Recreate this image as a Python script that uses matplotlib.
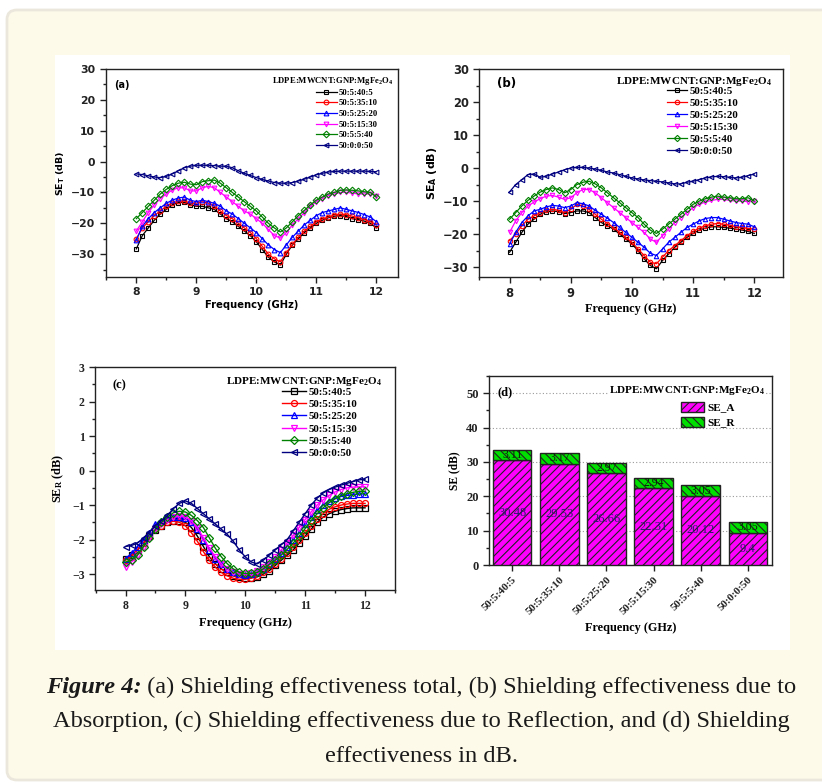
import numpy as np
import matplotlib
matplotlib.use('Agg')
import matplotlib.pyplot as plt
from matplotlib.patches import FancyBboxPatch, Rectangle
from matplotlib.ticker import MultipleLocator

plt.rcParams['mathtext.default'] = 'regular'
plt.rcParams['hatch.linewidth'] = 0.8

SANS = 'DejaVu Sans'
SERIF = 'Liberation Serif'

# ---------------- data ----------------
freq = np.round(np.arange(8.0, 12.0001, 0.1), 2)
series_labels = ['50:5:40:5', '50:5:35:10', '50:5:25:20', '50:5:15:30', '50:5:5:40', '50:0:0:50']
colors = ['#000000', '#ff0000', '#0000ff', '#ff00ff', '#008000', '#000080']
markers = ['s', 'o', '^', 'v', 'D', '<']

# (a) total shielding effectiveness SE_T (dB)
set_405 = [-28.3, -24, -21.5, -19, -17, -15.5, -14, -13.3, -13.2, -14, -14.5, -14.5, -15, -15.5, -17, -18.5,
           -19.5, -21, -22.5, -24, -26, -28.5, -31, -32.5, -33.5, -30, -27, -25, -23, -21.5, -20, -19, -18.2,
           -17.7, -17.5, -17.8, -18.5, -18.8, -19.3, -20, -21.5]
set_3510 = [-25, -21.5, -19.5, -17.5, -16, -14.5, -13.5, -12.8, -12.8, -13.5, -13.5, -13, -13.5, -14.5, -16,
            -17.5, -18.5, -20, -21.5, -23, -25, -27.5, -30, -31.5, -32.5, -29.5, -26.8, -24.5, -22.5, -21,
            -19.5, -18.6, -18, -17.3, -17, -17.2, -17.7, -18.2, -18.8, -19.5, -20.5]
set_2520 = [-25.5, -21, -18.5, -16.5, -15, -13.5, -12.5, -11.8, -11.5, -12.5, -13, -12.5, -13, -13.5, -14.5,
            -16, -17, -18.5, -20, -21.5, -23, -25, -27, -28.5, -29.5, -27, -24.5, -22.5, -20.5, -19, -17.5,
            -16.5, -16, -15.5, -15, -15.5, -16, -16.5, -17.2, -18, -19.5]
set_1530 = [-22.5, -19.5, -16.5, -14, -12, -10.5, -9.2, -8.5, -8.5, -9.5, -9.5, -8.5, -8, -8.5, -10, -11.5,
            -13, -14.5, -16, -17, -18.5, -20, -22, -24, -24.8, -23, -20.5, -18.5, -16.5, -14.5, -13, -12, -11,
            -10.5, -10, -10, -10.2, -10.5, -10.5, -10.5, -11]
set_540 = [-18.5, -16.5, -14.5, -12.5, -10.5, -9, -7.8, -7, -6.7, -7.3, -7.5, -6.5, -6.2, -6, -7, -8.5, -10,
           -11.5, -13, -14.5, -16, -18, -20, -21.5, -22.8, -21.5, -19.5, -17.5, -15.8, -14, -12.5, -11.5, -10.5,
           -10, -9.3, -9.2, -9.3, -9.5, -9.8, -10, -11.5]
set_0050 = [-4, -4.2, -4.6, -5, -5.2, -4.8, -4, -3, -2, -1.5, -1.2, -1.2, -1.2, -1.3, -1.5, -1.5, -2, -3, -3.8,
            -4.5, -5.2, -5.8, -6.3, -6.8, -7, -7, -6.8, -6.3, -5.7, -5, -4.3, -3.8, -3.4, -3.2, -3.1, -3.1, -3.1,
            -3.1, -3.1, -3.2, -3.3]

# (b) absorption SE_A (dB)
sea_405 = [-25.5, -22.5, -19.5, -17, -15.5, -14, -13.3, -13, -13.2, -13.8, -13.5, -13, -13, -13.5, -15, -16.5,
           -17.5, -18.5, -20, -21.5, -23, -25, -27.5, -29.5, -30.5, -28, -26, -24, -22.5, -21, -19.8, -18.8,
           -18.2, -17.8, -17.8, -18, -18.2, -18.5, -18.8, -19.2, -19.8]
sea_3510 = [-22, -20, -17.5, -15.5, -14.5, -13.5, -12.8, -12.5, -12.8, -13.5, -12.5, -11, -11.5, -12.5, -14,
            -15.5, -16.8, -18, -19.5, -21, -22.5, -24.5, -26.5, -28.5, -29, -27, -25, -23.5, -22, -20.5, -19.2,
            -18.2, -17.5, -17, -16.8, -17, -17.3, -17.8, -18, -18.3, -18.5]
sea_2520 = [-23, -19.5, -16.5, -14.5, -13, -12.5, -11.8, -11.3, -11.5, -12, -11.5, -10.5, -10.8, -11.5, -12.8,
            -14, -15.2, -16.5, -18, -19.5, -21, -22.5, -24, -25.8, -26.5, -24.5, -22.5, -21, -19.5, -18, -17,
            -16, -15.3, -15, -15, -15.5, -16, -16.5, -16.8, -17, -17.8]
sea_1530 = [-19.5, -16, -13.5, -11.5, -10.3, -9.3, -8.5, -8.3, -8.8, -9.5, -9, -7.5, -6.5, -6.5, -7.5, -9,
            -10.5, -12, -13.5, -15, -16.5, -18, -19.5, -21.5, -22.5, -20.5, -18.5, -16.5, -15, -13.5, -12, -11,
            -10.3, -9.8, -9.5, -9.5, -9.8, -10, -10, -10.2, -10]
sea_540 = [-15.5, -13.5, -11.5, -9.8, -8.5, -7.3, -6.5, -6, -6.5, -7.5, -6.5, -5, -4.3, -4, -4.8, -6, -7.5, -9,
           -10.5, -12, -13.5, -15, -17, -18.8, -19.8, -18.5, -17, -15.5, -14, -12.5, -11, -10, -9.3, -8.8, -8.5,
           -8.8, -9, -9.3, -9.3, -9, -10]
sea_0050 = [-7.2, -5, -3.5, -2, -1.8, -2.8, -2.5, -1.8, -1.2, -0.5, 0, 0.2, 0.2, 0, -0.3, -0.7, -1.2, -1.5, -2,
            -2.5, -3, -3.3, -3.6, -3.8, -4, -4.2, -4.5, -4.8, -4.8, -4.3, -4, -3.5, -3, -2.7, -2.5, -2.6, -2.8,
            -3, -2.8, -2.3, -1.8]

# (c) reflection SE_R (dB)
ser_405 = [-2.55, -2.45, -2.3, -2.1, -1.9, -1.72, -1.6, -1.5, -1.45, -1.45, -1.5, -1.65, -1.9, -2.2, -2.5,
           -2.7, -2.85, -2.95, -3.05, -3.08, -3.1, -3.1, -3.08, -3.0, -2.9, -2.75, -2.6, -2.45, -2.3, -2.1,
           -1.9, -1.7, -1.5, -1.35, -1.25, -1.18, -1.13, -1.1, -1.08, -1.08, -1.08]
ser_3510 = [-2.6, -2.5, -2.3, -2.1, -1.9, -1.7, -1.6, -1.5, -1.47, -1.5, -1.6, -1.8, -2.05, -2.35, -2.6, -2.8,
            -2.95, -3.05, -3.12, -3.15, -3.15, -3.12, -3.05, -2.95, -2.85, -2.7, -2.55, -2.4, -2.2, -2.0, -1.8,
            -1.6, -1.4, -1.25, -1.12, -1.05, -1.0, -0.97, -0.95, -0.95, -0.95]
ser_2520 = [-2.55, -2.4, -2.2, -2.0, -1.8, -1.55, -1.45, -1.38, -1.35, -1.35, -1.38, -1.5, -1.7, -2.0, -2.3,
            -2.55, -2.72, -2.85, -2.95, -3.0, -3.02, -3.0, -2.95, -2.85, -2.72, -2.55, -2.4, -2.2, -2.0, -1.8,
            -1.55, -1.35, -1.15, -1.0, -0.88, -0.8, -0.75, -0.72, -0.7, -0.68, -0.68]
ser_1530 = [-2.8, -2.65, -2.45, -2.2, -1.95, -1.7, -1.55, -1.42, -1.35, -1.32, -1.35, -1.45, -1.65, -1.95,
            -2.25, -2.5, -2.7, -2.85, -2.95, -3.0, -3.0, -2.98, -2.92, -2.8, -2.65, -2.5, -2.3, -2.1, -1.88,
            -1.65, -1.42, -1.2, -1.0, -0.85, -0.72, -0.62, -0.55, -0.5, -0.48, -0.47, -0.47]
ser_540 = [-2.65, -2.6, -2.45, -2.2, -1.95, -1.7, -1.5, -1.35, -1.22, -1.18, -1.2, -1.3, -1.45, -1.65, -1.95,
           -2.25, -2.5, -2.7, -2.85, -2.95, -2.98, -2.98, -2.95, -2.85, -2.72, -2.6, -2.45, -2.28, -2.1, -1.9,
           -1.68, -1.45, -1.25, -1.08, -0.93, -0.82, -0.73, -0.67, -0.63, -0.6, -0.6]
ser_0050 = [-2.2, -2.17, -2.1, -1.95, -1.78, -1.6, -1.45, -1.3, -1.1, -0.95, -0.88, -0.95, -1.1, -1.25, -1.4,
            -1.55, -1.7, -1.85, -2.05, -2.3, -2.5, -2.65, -2.7, -2.6, -2.45, -2.3, -2.15, -2.0, -1.75, -1.5,
            -1.25, -1.0, -0.8, -0.65, -0.55, -0.48, -0.42, -0.37, -0.32, -0.27, -0.25]

# (d) bars
bar_labels = ['50:5:40:5', '50:5:35:10', '50:5:25:20', '50:5:15:30', '50:5:5:40', '50:0:0:50']
bar_se_a = [30.48, 29.53, 26.66, 22.31, 20.12, 9.4]
bar_se_r = [3.11, 3.17, 2.97, 2.94, 3.05, 3.05]

panel_a = [set_405, set_3510, set_2520, set_1530, set_540, set_0050]
panel_b = [sea_405, sea_3510, sea_2520, sea_1530, sea_540, sea_0050]
panel_c = [ser_405, ser_3510, ser_2520, ser_1530, ser_540, ser_0050]

TITLE = r'LDPE:MWCNT:GNP:MgFe$_2$O$_4$'

# ---------------- figure ----------------
W, H = 822, 782
fig = plt.figure(figsize=(W / 100, H / 100), dpi=100)
fig.patch.set_facecolor('white')


def fx(x):
    return x / W


def fy(y):
    return 1 - y / H


bg = FancyBboxPatch((fx(7), fy(780)), fx(840) - fx(7), fy(10) - fy(780),
                    boxstyle='round,pad=0,rounding_size=0.012', transform=fig.transFigure,
                    facecolor='#fefae9', edgecolor='#ebe7dd', linewidth=2.0, zorder=-10)
fig.patches.append(bg)
fig.patches.append(Rectangle((fx(55), fy(650)), fx(790) - fx(55), fy(55) - fy(650),
                             transform=fig.transFigure, facecolor='white', edgecolor='none', zorder=-9))


def ax_rect(l, t, r, b):
    return [fx(l), fy(b), fx(r) - fx(l), fy(t) - fy(b)]


def style_axes(ax, tick_font, tick_size):
    for s in ax.spines.values():
        s.set_linewidth(1.0)
        s.set_color('#222222')
    ax.tick_params(which='both', direction='out', top=False, right=False, width=1.0, color='#222222')
    ax.tick_params(which='major', length=4)
    ax.tick_params(which='minor', length=2)
    for lab in ax.get_xticklabels() + ax.get_yticklabels():
        lab.set_fontfamily(tick_font)
        lab.set_fontweight('bold')
        lab.set_fontsize(tick_size)
        lab.set_color('#222222')


def line_panel(ax, data, ms, mew, lw):
    handles = []
    for vals, c, m, lab in zip(data, colors, markers, series_labels):
        h, = ax.plot(freq, vals, color=c, marker=m, markersize=ms, markerfacecolor='none',
                     markeredgewidth=mew, linewidth=lw, label=lab)
        handles.append(h)
    return handles


# ---- (a)
axa = fig.add_axes(ax_rect(105.7, 69, 398, 277))
line_panel(axa, panel_a, 3.4, 0.8, 0.9)
axa.set_xlim(7.49, 12.36)
axa.set_ylim(-37.4, 30)
axa.xaxis.set_major_locator(MultipleLocator(1))
axa.xaxis.set_minor_locator(MultipleLocator(0.5))
axa.yaxis.set_major_locator(MultipleLocator(10))
axa.yaxis.set_minor_locator(MultipleLocator(5))
style_axes(axa, SANS, 7.8)
axa.set_xlabel('Frequency (GHz)', fontfamily=SANS, fontweight='bold', fontsize=7.2, labelpad=2)
axa.set_ylabel('SE$_T$ (dB)', fontfamily=SANS, fontweight='bold', fontsize=6.8, labelpad=3)
axa.text(0.03, 0.925, '(a)', transform=axa.transAxes, fontfamily=SANS, fontweight='bold',
         fontsize=7, va='center', ha='left')
axa.text(0.985, 0.942, TITLE, transform=axa.transAxes, fontfamily=SERIF, fontweight='bold',
         fontsize=6.2, va='center', ha='right')
axa.legend(loc='upper left', bbox_to_anchor=(0.72, 0.905), frameon=False, borderpad=0, borderaxespad=0,
           prop={'family': SERIF, 'weight': 'bold', 'size': 6.2}, handlelength=2.4, handletextpad=0.2,
           labelspacing=0.3)

# ---- (b)
axb = fig.add_axes(ax_rect(479, 69, 783, 277))
line_panel(axb, panel_b, 3.2, 0.8, 0.9)
axb.set_xlim(7.5, 12.47)
axb.set_ylim(-33, 30)
axb.xaxis.set_major_locator(MultipleLocator(1))
axb.xaxis.set_minor_locator(MultipleLocator(0.5))
axb.yaxis.set_major_locator(MultipleLocator(10))
axb.yaxis.set_minor_locator(MultipleLocator(5))
style_axes(axb, SANS, 8.3)
axb.set_xlabel('Frequency (GHz)', fontfamily=SERIF, fontweight='bold', fontsize=8.8, labelpad=2)
axb.set_ylabel('SE$_A$ (dB)', fontfamily=SANS, fontweight='bold', fontsize=8, labelpad=3)
axb.text(0.06, 0.93, '(b)', transform=axb.transAxes, fontfamily=SANS, fontweight='bold',
         fontsize=8.5, va='center', ha='left')
axb.text(0.965, 0.942, TITLE, transform=axb.transAxes, fontfamily=SERIF, fontweight='bold',
         fontsize=8, va='center', ha='right')
axb.legend(loc='upper left', bbox_to_anchor=(0.62, 0.915), frameon=False, borderpad=0, borderaxespad=0,
           prop={'family': SERIF, 'weight': 'bold', 'size': 7.8}, handlelength=1.8, handletextpad=0.2,
           labelspacing=0.22)

# ---- (c)
axc = fig.add_axes(ax_rect(95, 367, 395, 590))
line_panel(axc, panel_c, 4.3, 0.9, 1.0)
axc.set_xlim(7.49, 12.5)
axc.set_ylim(-3.46, 3)
axc.xaxis.set_major_locator(MultipleLocator(1))
axc.xaxis.set_minor_locator(MultipleLocator(0.5))
axc.yaxis.set_major_locator(MultipleLocator(1))
axc.yaxis.set_minor_locator(MultipleLocator(0.5))
style_axes(axc, SERIF, 8.5)
axc.set_xlabel('Frequency (GHz)', fontfamily=SERIF, fontweight='bold', fontsize=9, labelpad=3)
axc.set_ylabel('SE$_R$ (dB)', fontfamily=SERIF, fontweight='bold', fontsize=8.8, labelpad=4)
axc.text(0.057, 0.92, '(c)', transform=axc.transAxes, fontfamily=SERIF, fontweight='bold',
         fontsize=9, va='center', ha='left')
axc.text(0.957, 0.937, TITLE, transform=axc.transAxes, fontfamily=SERIF, fontweight='bold',
         fontsize=8, va='center', ha='right')
axc.legend(loc='upper left', bbox_to_anchor=(0.623, 0.91), frameon=False, borderpad=0, borderaxespad=0,
           prop={'family': SERIF, 'weight': 'bold', 'size': 7.8}, handlelength=2.2, handletextpad=0.25,
           labelspacing=0.25)

# ---- (d)
axd = fig.add_axes(ax_rect(489, 376, 772, 565))
xpos = np.arange(len(bar_labels))
ba = axd.bar(xpos, bar_se_a, width=0.82, color='#ff00ff', edgecolor='#222222', hatch='////',
             linewidth=1.0, label='SE_A', zorder=3)
br = axd.bar(xpos, bar_se_r, bottom=bar_se_a, width=0.82, color='#00e000', edgecolor='#222222',
             hatch='\\\\\\\\', linewidth=1.0, label='SE_R', zorder=3)
for xi, a, r in zip(xpos, bar_se_a, bar_se_r):
    axd.text(xi, a / 2, f'{a:g}', ha='center', va='center', fontfamily=SERIF, fontsize=9,
             color='#2a1a6a', zorder=5)
    axd.text(xi, a + r / 2, f'{r:.2f}', ha='center', va='center', fontfamily=SERIF, fontsize=8.5,
             color='#0a200a', zorder=5)
axd.set_xlim(-0.49, 5.51)
axd.set_ylim(0, 55)
axd.set_xticks(xpos)
axd.set_xticklabels(bar_labels, rotation=45, ha='right', rotation_mode='anchor')
axd.yaxis.set_major_locator(MultipleLocator(10))
axd.yaxis.set_minor_locator(MultipleLocator(5))
axd.set_axisbelow(True)
axd.yaxis.grid(True, which='major', linestyle=(0, (1, 2)), color='#9a9a9a', linewidth=0.8)
style_axes(axd, SERIF, 9)
for lab in axd.get_xticklabels():
    lab.set_fontsize(8)
axd.set_xlabel('Frequency (GHz)', fontfamily=SERIF, fontweight='bold', fontsize=8.8, labelpad=4)
axd.set_ylabel('SE (dB)', fontfamily=SERIF, fontweight='bold', fontsize=8.3, labelpad=4)
axd.text(0.03, 0.915, '(d)', transform=axd.transAxes, fontfamily=SERIF, fontweight='bold',
         fontsize=9, va='center', ha='left', zorder=6)
axd.text(0.975, 0.921, TITLE, transform=axd.transAxes, fontfamily=SERIF, fontweight='bold',
         fontsize=8, va='center', ha='right', zorder=6,
         bbox=dict(facecolor='white', edgecolor='none', pad=0.5))
axd.legend(loc='upper left', bbox_to_anchor=(0.678, 0.865), frameon=True, facecolor='white',
           edgecolor='none', framealpha=1, borderpad=0, borderaxespad=0,
           prop={'family': SERIF, 'weight': 'bold', 'size': 8}, handlelength=2.1, handleheight=1.1,
           handletextpad=0.3, labelspacing=0.35)

# ---- caption
renderer = fig.canvas.get_renderer()
cap_size = 17.6
t1 = fig.text(0, fy(693), 'Figure 4:', fontfamily=SERIF, fontweight='bold', fontstyle='italic',
              fontsize=cap_size, va='baseline', ha='left', color='#1a1a1a')
t2 = fig.text(0, fy(693), ' (a) Shielding effectiveness total, (b) Shielding effectiveness due to',
              fontfamily=SERIF, fontsize=cap_size, va='baseline', ha='left', color='#1a1a1a')
w1 = t1.get_window_extent(renderer).width
w2 = t2.get_window_extent(renderer).width
x0 = 421 - (w1 + w2) / 2
t1.set_x(fx(x0))
t2.set_x(fx(x0 + w1))
fig.text(fx(421), fy(727.5), 'Absorption, (c) Shielding effectiveness due to Reflection, and (d) Shielding',
         fontfamily=SERIF, fontsize=cap_size, va='baseline', ha='center', color='#1a1a1a')
fig.text(fx(421), fy(762), 'effectiveness in dB.', fontfamily=SERIF, fontsize=cap_size,
         va='baseline', ha='center', color='#1a1a1a')

fig.savefig('out.png', dpi=100, facecolor=fig.get_facecolor())
